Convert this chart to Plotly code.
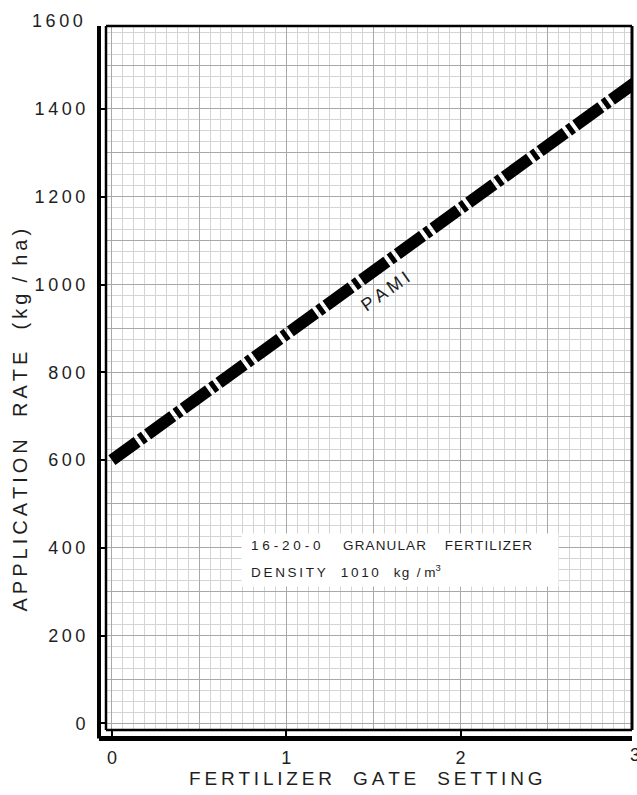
import plotly.graph_objects as go

# data
gate_setting = [0, 3]
application_rate = [600, 1460]
x_ticks = [0, 1, 2, 3]
y_ticks = [0, 200, 400, 600, 800, 1000, 1200, 1400, 1600]
line_label = "PAMI"
box_line1 = ["16-20-0", "GRANULAR", "FERTILIZER"]
box_line2 = ["DENSITY", "1010", "kg", "/", "m"]
x_title = ["FERTILIZER", "GATE", "SETTING"]
y_title = ["APPLICATION", "RATE", "(kg", "/", "ha)"]

X_RANGE = [-0.034, 2.983]
Y_RANGE = [-15, 1589]
FONT = "Liberation Sans, Arial, sans-serif"
TXT = "#1e1e1e"
NB = "\u00a0"
THIN = "\u2009"
HAIR = "\u200a"

def track(word, sep=THIN):
    return sep.join(list(word))

fig = go.Figure()
# invisible trace so the grid axes are drawn
fig.add_trace(go.Scatter(x=[None], y=[None], mode="lines", xaxis="x", yaxis="y",
                         showlegend=False, hoverinfo="skip"))
fig.add_trace(go.Scatter(
    x=gate_setting, y=application_rate, mode="lines",
    line=dict(color="black", width=12, dash="31px,4px,5px,4px"),
    xaxis="x2", yaxis="y2", showlegend=False, hoverinfo="skip"))

grid_minor = "#d4d4d4"
grid_major = "#a8a8a8"

fig.update_layout(
    width=637, height=795,
    margin=dict(l=106, r=5, t=26, b=64.5),
    paper_bgcolor="white", plot_bgcolor="white",
    font=dict(family=FONT, color=TXT, size=18),
    xaxis=dict(range=X_RANGE, dtick=0.5, tick0=0, showgrid=True, gridcolor=grid_major,
               gridwidth=1, showticklabels=False, ticks="", zeroline=False, showline=False,
               minor=dict(dtick=1/16, tick0=0, showgrid=True, gridcolor=grid_minor, gridwidth=1)),
    yaxis=dict(range=Y_RANGE, dtick=100, tick0=0, showgrid=True, gridcolor=grid_major,
               gridwidth=1, showticklabels=False, ticks="", zeroline=False, showline=False,
               minor=dict(dtick=25, tick0=0, showgrid=True, gridcolor=grid_minor, gridwidth=1)),
    xaxis2=dict(range=X_RANGE, overlaying="x", anchor="y2", tickvals=x_ticks[:-1],
                ticktext=[str(v) for v in x_ticks[:-1]],
                ticks="outside", ticklen=8, tickwidth=2, tickcolor="black",
                showgrid=False, zeroline=False, showline=False,
                tickfont=dict(size=18), ticklabelstandoff=3),
    yaxis2=dict(range=Y_RANGE, overlaying="y", anchor="x2", tickvals=y_ticks[:-1],
                ticktext=[track(str(v)) for v in y_ticks[:-1]],
                ticks="outside", ticklen=7, tickwidth=2, tickcolor="black",
                showgrid=False, zeroline=False, showline=False,
                tickfont=dict(size=18), ticklabelstandoff=9),
)

# frame: double lines on left and bottom, single on top and right
shapes = [
    dict(type="line", xref="paper", yref="paper", x0=0, x1=0, y0=0, y1=1, line=dict(color="black", width=2.5)),
    dict(type="line", xref="paper", yref="paper", x0=0, x1=1, y0=0, y1=0, line=dict(color="black", width=2.5)),
    dict(type="line", xref="paper", yref="paper", x0=0, x1=1, y0=1, y1=1, line=dict(color="black", width=2.5)),
    dict(type="line", xref="paper", yref="paper", x0=1, x1=1, y0=0, y1=1, line=dict(color="black", width=3)),
    dict(type="line", xref="paper", yref="paper", x0=-0.0133, x1=-0.0133, y0=-0.012, y1=1.0,
         line=dict(color="black", width=4)),
    dict(type="line", xref="paper", yref="paper", x0=-0.0133, x1=1.0, y0=-0.012, y1=-0.012,
         line=dict(color="black", width=5)),
]
fig.update_layout(shapes=shapes)

line1_text = (track(box_line1[0], THIN + HAIR) + NB * 6 + track(box_line1[1], HAIR)
              + NB * 5 + track(box_line1[2], HAIR))
line2_text = (track(box_line2[0], THIN) + NB * 4 + track(box_line2[1], THIN) + NB * 4
              + track(box_line2[2], HAIR) + NB * 2 + box_line2[3] + NB + box_line2[4]
              + "<sup>3</sup>")
ytitle_text = (track(y_title[0]) + NB * 4 + track(y_title[1]) + NB * 4 + track(y_title[2])
               + NB * 2 + y_title[3] + NB * 2 + track(y_title[4]))
xtitle_text = (NB * 4).join(track(w) for w in x_title)

annotations = [
    dict(text=track(str(y_ticks[-1])), xref="paper", yref="paper", x=-0.04, y=1.007,
         xanchor="right", yanchor="middle", showarrow=False, font=dict(size=18)),
    dict(text=str(x_ticks[-1]), xref="paper", yref="paper", x=1.0057, y=-0.035,
         xanchor="center", yanchor="middle", showarrow=False, font=dict(size=18)),
    dict(text=track(line_label), xref="x2", yref="y2", x=1.571, y=985, showarrow=False,
         textangle=-35, font=dict(size=18, color=TXT)),
    # white label box
    dict(text=" ", xref="paper", yref="paper", x=0.558, y=0.2415, xanchor="center",
         yanchor="middle", showarrow=False, bgcolor="white", width=314, height=50,
         font=dict(size=13)),
    dict(text=line1_text, xref="paper", yref="paper", x=0.2713, y=0.2614,
         xanchor="left", yanchor="middle", showarrow=False, font=dict(size=13.5, color=TXT)),
    dict(text=line2_text, xref="paper", yref="paper",
         x=0.2713, y=0.2259, xanchor="left", yanchor="middle", showarrow=False,
         font=dict(size=13.5, color=TXT)),
    dict(text=ytitle_text,
         xref="paper", yref="paper", x=-0.163, y=0.44, textangle=-90, showarrow=False,
         xanchor="center", yanchor="middle", font=dict(size=20)),
    dict(text=xtitle_text,
         xref="paper", yref="paper", x=0.494, y=-0.069, showarrow=False,
         xanchor="center", yanchor="middle", font=dict(size=19)),
]
fig.update_layout(annotations=annotations)

fig.write_html("out.html", config={"displayModeBar": False},
               post_script="document.body.style.margin='0px';")
